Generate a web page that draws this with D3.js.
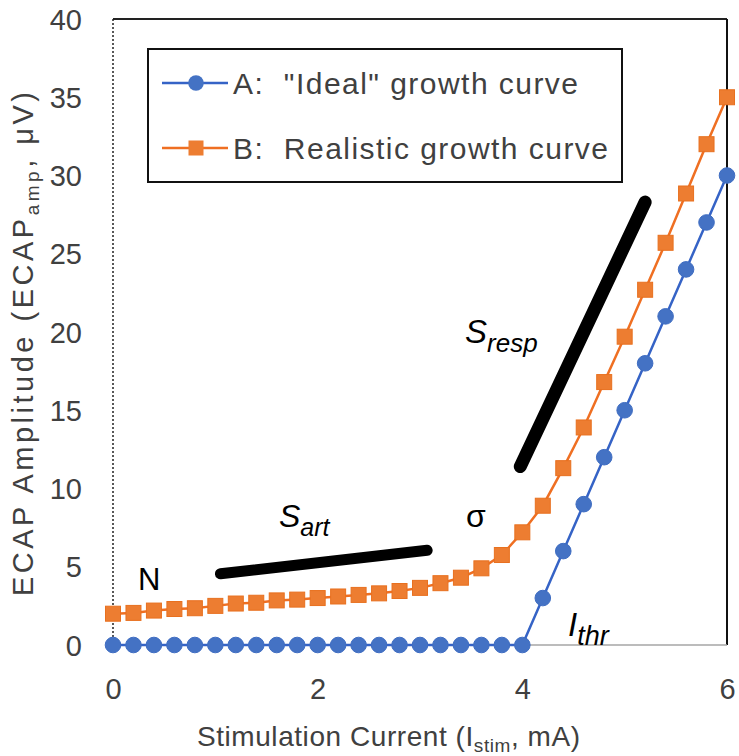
<!DOCTYPE html>
<html>
<head>
<meta charset="utf-8">
<script src="https://cdn.jsdelivr.net/npm/d3@7/dist/d3.min.js"></script>
<style>
  html, body { margin: 0; padding: 0; background: #fff; }
  svg { display: block; font-family: "Liberation Sans", Arial, sans-serif; }
</style>
</head>
<body>
<svg id="chart" width="739" height="756"></svg>
<script>
// ---- data ----
const currents = [0, 0.2, 0.4, 0.6, 0.8, 1.0, 1.2, 1.4, 1.6, 1.8, 2.0, 2.2, 2.4, 2.6, 2.8, 3.0,
                  3.2, 3.4, 3.6, 3.8, 4.0, 4.2, 4.4, 4.6, 4.8, 5.0, 5.2, 5.4, 5.6, 5.8, 6.0];
const idealAmp = [0, 0, 0, 0, 0, 0, 0, 0, 0, 0, 0, 0, 0, 0, 0, 0,
                  0, 0, 0, 0, 0, 3, 6, 9, 12, 15, 18, 21, 24, 27, 30];
const realisticAmp = [2.0, 2.05, 2.2, 2.3, 2.35, 2.5, 2.65, 2.7, 2.85, 2.9, 3.0, 3.1, 3.2, 3.3, 3.45, 3.65,
                      3.95, 4.3, 4.9, 5.75, 7.2, 8.9, 11.3, 13.9, 16.8, 19.7, 22.7, 25.7, 28.85, 32.0, 35.0];
const seriesNames = ['A:\u00a0\u00a0"Ideal" growth curve', 'B:\u00a0\u00a0Realistic growth curve'];
const xTicks = [0, 2, 4, 6];
const yTicks = [0, 5, 10, 15, 20, 25, 30, 35, 40];
// annotation slope lines [x1, y1, x2, y2] in data units
const slopeArt = [1.05, 4.55, 3.07, 6.05];
const slopeResp = [3.98, 11.4, 5.2, 28.3];

// ---- layout ----
const svg = d3.select('#chart');
const x = d3.scaleLinear().domain([0, 6]).range([113, 727]);
const y = d3.scaleLinear().domain([0, 40]).range([645, 19]);

const blueLine = '#3563c6', blueFill = '#4472C4';
const orangeLine = '#ef6f22', orangeFill = '#ED7D31';
const textGray = '#404040';

// frame
svg.append('line').attr('x1', x(0)).attr('x2', x(6)).attr('y1', y(40)).attr('y2', y(40))
  .attr('stroke', '#222').attr('stroke-width', 2);
svg.append('line').attr('x1', x(6)).attr('x2', x(6)).attr('y1', y(40)).attr('y2', y(0))
  .attr('stroke', '#111').attr('stroke-width', 2);
svg.append('line').attr('x1', x(0)).attr('x2', x(0)).attr('y1', y(40)).attr('y2', y(0))
  .attr('stroke', '#222').attr('stroke-width', 1.5).attr('stroke-dasharray', '2,2');
svg.append('line').attr('x1', x(0)).attr('x2', x(6)).attr('y1', y(0)).attr('y2', y(0))
  .attr('stroke', '#a6a6a6').attr('stroke-width', 1.5);

// axes (labels only)
const yAxis = d3.axisLeft(y).tickValues(yTicks).tickFormat(d3.format('d')).tickSize(0).tickPadding(0);
const gy = svg.append('g').attr('transform', 'translate(82,0)').call(yAxis);
gy.select('.domain').remove();
gy.selectAll('text').attr('font-size', 29).attr('fill', textGray)
  .attr('font-family', '"Liberation Sans", Arial, sans-serif').attr('dy', '0.35em');

const xAxis = d3.axisBottom(x).tickValues(xTicks).tickFormat(d3.format('d')).tickSize(0).tickPadding(0);
const gx = svg.append('g').attr('transform', 'translate(0,678)').call(xAxis);
gx.select('.domain').remove();
gx.selectAll('text').attr('font-size', 29).attr('fill', textGray)
  .attr('font-family', '"Liberation Sans", Arial, sans-serif').attr('dy', '0.71em');

// axis titles
const xt = svg.append('text').attr('x', 197).attr('y', 746)
  .attr('font-size', 28).attr('fill', textGray)
  .attr('textLength', 383).attr('lengthAdjust', 'spacing');
xt.append('tspan').text('Stimulation Current (I');
xt.append('tspan').attr('font-size', 19).attr('dy', 6).text('stim');
xt.append('tspan').attr('dy', -6).text(', mA)');

const yt = svg.append('text').attr('transform', 'translate(33,596) rotate(-90)')
  .attr('font-size', 29).attr('fill', textGray)
  .attr('textLength', 504).attr('lengthAdjust', 'spacing');
yt.append('tspan').text('ECAP Amplitude (ECAP');
yt.append('tspan').attr('font-size', 19).attr('dy', 6).text('amp');
yt.append('tspan').attr('dy', -6).text(', μV)');

// slope annotation lines
[[slopeArt, 11], [slopeResp, 13]].forEach(([s, w]) => {
  svg.append('line').attr('x1', x(s[0])).attr('y1', y(s[1])).attr('x2', x(s[2])).attr('y2', y(s[3]))
    .attr('stroke', '#000').attr('stroke-width', w).attr('stroke-linecap', 'round');
});

// series
const line = d3.line().x((d, i) => x(currents[i])).y(d => y(d));
svg.append('path').datum(realisticAmp).attr('d', line).attr('fill', 'none')
  .attr('stroke', orangeLine).attr('stroke-width', 2.5);
svg.selectAll('rect.ms').data(realisticAmp).enter().append('rect').attr('class', 'ms')
  .attr('x', (d, i) => x(currents[i]) - 7.5).attr('y', d => y(d) - 7.5)
  .attr('width', 15).attr('height', 15)
  .attr('fill', orangeFill).attr('stroke', '#e8701f').attr('stroke-width', 1);

svg.append('path').datum(idealAmp).attr('d', line).attr('fill', 'none')
  .attr('stroke', blueLine).attr('stroke-width', 2.5);
svg.selectAll('circle.mb').data(idealAmp).enter().append('circle').attr('class', 'mb')
  .attr('cx', (d, i) => x(currents[i])).attr('cy', d => y(d)).attr('r', 7.8)
  .attr('fill', blueFill).attr('stroke', '#3f6dc2').attr('stroke-width', 1);

// text annotations
function ann(tx, ty, main, sub, size, subSize, italic) {
  const t = svg.append('text').attr('x', tx).attr('y', ty).attr('font-size', size).attr('fill', '#000');
  if (italic) t.attr('font-style', 'italic');
  t.append('tspan').text(main);
  if (sub) t.append('tspan').attr('font-size', subSize).attr('dy', 9).text(sub);
  return t;
}
ann(138, 590, 'N', null, 31, 0, false);
ann(279, 527, 'S', 'art', 32, 25, true);
ann(466, 527, 'σ', null, 32, 0, false);
ann(465, 343, 'S', 'resp', 33, 26, true);
ann(568, 636, 'I', 'thr', 33, 27, true);

// legend
const lg = svg.append('g');
lg.append('rect').attr('x', 148).attr('y', 49).attr('width', 474).attr('height', 133)
  .attr('fill', '#fff').attr('stroke', '#111').attr('stroke-width', 2);
const entries = [
  {name: seriesNames[0], color: blueLine, fill: blueFill, shape: 'circle', cy: 83, len: 345},
  {name: seriesNames[1], color: orangeLine, fill: orangeFill, shape: 'square', cy: 148, len: 375}
];
entries.forEach(e => {
  lg.append('line').attr('x1', 162).attr('x2', 228).attr('y1', e.cy).attr('y2', e.cy)
    .attr('stroke', e.color).attr('stroke-width', 2.5);
  if (e.shape === 'circle') {
    lg.append('circle').attr('cx', 196).attr('cy', e.cy).attr('r', 7.8).attr('fill', e.fill);
  } else {
    lg.append('rect').attr('x', 188.5).attr('y', e.cy - 7.5).attr('width', 15).attr('height', 15).attr('fill', e.fill);
  }
  lg.append('text').attr('x', 233).attr('y', e.cy).attr('dy', '0.36em')
    .attr('font-size', 30).attr('fill', textGray)
    .attr('textLength', e.len).attr('lengthAdjust', 'spacing').text(e.name);
});
</script>
</body>
</html>
